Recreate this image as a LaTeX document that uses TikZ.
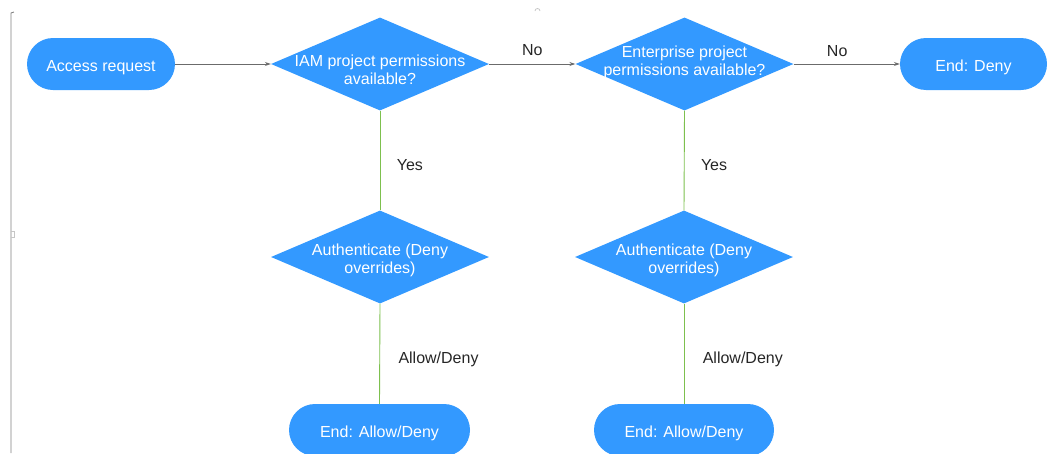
\documentclass[tikz,border=0pt]{standalone}
\usepackage{fontspec}
\setmainfont{Liberation Sans}
\usetikzlibrary{arrows.meta,shapes.geometric}
\definecolor{flowblue}{HTML}{3399FF}
\definecolor{yescolor}{HTML}{7DC04E}
\definecolor{nocolor}{HTML}{6B6B6B}
\tikzset{
  flow pill/.style={fill=flowblue,draw=none,rounded corners=26pt,minimum height=52pt,text=white,inner sep=0pt,text height=15.4pt,text depth=0pt},
  flow decision/.style={diamond,fill=flowblue,draw=none,minimum width=218pt,minimum height=93pt,inner sep=0pt},
  flow text/.style={text=white,align=center,inner sep=0pt},
  flow no/.style={nocolor,line width=.9pt,-{Stealth[length=6pt,width=4pt]}},
  flow yes/.style={yescolor,line width=.9pt},
  flow label/.style={text=black!85}
}

\begin{document}
\begin{tikzpicture}[x=1pt,y=-1pt,font=\fontsize{16}{18}\selectfont]
  \useasboundingbox (0,0) rectangle (1053,453);
  % frame marks of the canvas
  \draw[gray,line width=.8pt] (14,12)--(11,13)--(11,453);
  \draw[gray!45,line width=.8pt] (11,231)--(14,231)--(14,237)--(11,237);
  \draw[gray!45,line width=.8pt] (535,11) arc[start angle=180,end angle=360,radius=2.5];
  % top row
  \node[flow pill,minimum width=148pt] (req) at (101,64) {Access request};
  \node[flow decision,label={[flow text,yshift=-6pt]center:IAM project permissions\\available?}] (iam) at (380,64) {};
  \node[flow decision,label={[flow text,yshift=2pt]center:Enterprise project\\permissions available?}] (ent) at (684.5,64) {};
  \node[flow pill,minimum width=147pt] (deny) at (973.5,64) {End: Deny};
  % authentication row
  \node[flow decision,label={[flow text,yshift=-3.5pt]center:Authenticate (Deny\\overrides)}] (authiam) at (380,257) {};
  \node[flow decision,label={[flow text,yshift=-3.5pt]center:Authenticate (Deny\\overrides)}] (authent) at (684,257) {};
  % end row
  \node[flow pill,minimum width=181pt] (endiam) at (379.5,430) {End: Allow/Deny};
  \node[flow pill,minimum width=180pt] (endent) at (684,430) {End: Allow/Deny};
  % connectors
  \draw[flow no] (req.east) -- (iam.west);
  \draw[flow no] (iam.east) -- node[flow label,midway,above=5pt] {No} (ent.west);
  \draw[flow no] (ent.east) -- node[flow label,pos=.41,above=4pt] {No} (deny.west);
  \draw[flow yes] (iam.south) -- node[flow label,pos=.55,right=13pt] {Yes} (authiam.north);
  \draw[flow yes] (ent.south) -- node[flow label,pos=.55,right=13pt] {Yes} (authent.north);
  \draw[flow yes] (authiam.south) -- node[flow label,pos=.56,right=15pt] {Allow/Deny} (endiam.north);
  \draw[flow yes] (authent.south) -- node[flow label,pos=.56,right=15pt] {Allow/Deny} (endent.north);
\end{tikzpicture}
\end{document}
